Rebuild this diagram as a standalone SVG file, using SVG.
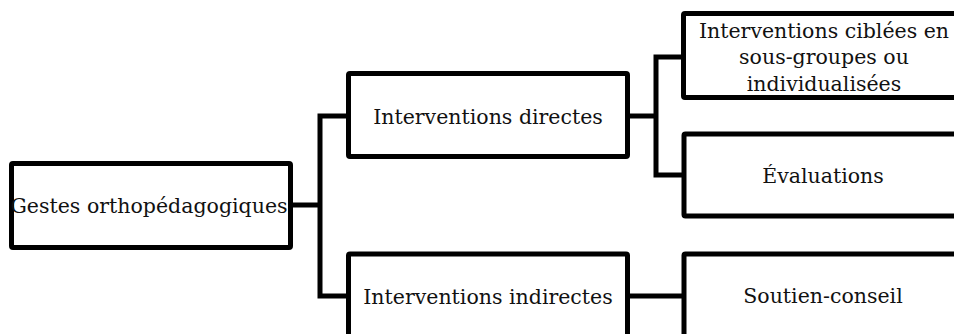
<svg xmlns="http://www.w3.org/2000/svg" width="954" height="334" viewBox="0 0 954 334">
  <style>
    .box { fill: #ffffff; stroke: #000000; stroke-width: 5; }
    .lbl { font-family: "DejaVu Serif", "Liberation Serif", serif; font-size: 20.5px; fill: #111111; text-anchor: middle; }
    .wire { fill: none; stroke: #000000; stroke-width: 5; stroke-linejoin: miter; }
  </style>
  <rect width="954" height="334" fill="#ffffff"/>

  <!-- tree connectors -->
  <g id="connectors">
    <path class="wire" d="M290,205 H320"/>
    <path class="wire" d="M348,116 H320 V296 H348"/>
    <path class="wire" d="M627,116 H656"/>
    <path class="wire" d="M683,57 H656 V175 H684"/>
    <path class="wire" d="M627,296 H684"/>
  </g>

  <g id="gestes">
    <rect class="box" x="11.5" y="163.5" width="279" height="84" rx="1.5"/>
    <text class="lbl" x="149" y="212.5">Gestes orthopédagogiques</text>
  </g>

  <g id="directes">
    <rect class="box" x="348.5" y="73.5" width="279" height="83" rx="1.5"/>
    <text class="lbl" x="488" y="123.5">Interventions directes</text>
  </g>

  <g id="indirectes">
    <rect class="box" x="348.5" y="254" width="279" height="84" rx="1.5"/>
    <text class="lbl" x="488" y="303.5">Interventions indirectes</text>
  </g>

  <g id="ciblees">
    <rect class="box" x="683.5" y="13.5" width="279" height="84" rx="1.5"/>
    <text class="lbl" x="824" y="37.5">Interventions ciblées en</text>
    <text class="lbl" x="824" y="64">sous-groupes ou</text>
    <text class="lbl" x="824" y="90.5">individualisées</text>
  </g>

  <g id="evaluations">
    <rect class="box" x="684" y="134" width="279" height="82" rx="1.5"/>
    <text class="lbl" x="823" y="182.5">Évaluations</text>
  </g>

  <g id="soutien">
    <rect class="box" x="684" y="254" width="279" height="84" rx="1.5"/>
    <text class="lbl" x="823" y="302.5">Soutien-conseil</text>
  </g>
</svg>
